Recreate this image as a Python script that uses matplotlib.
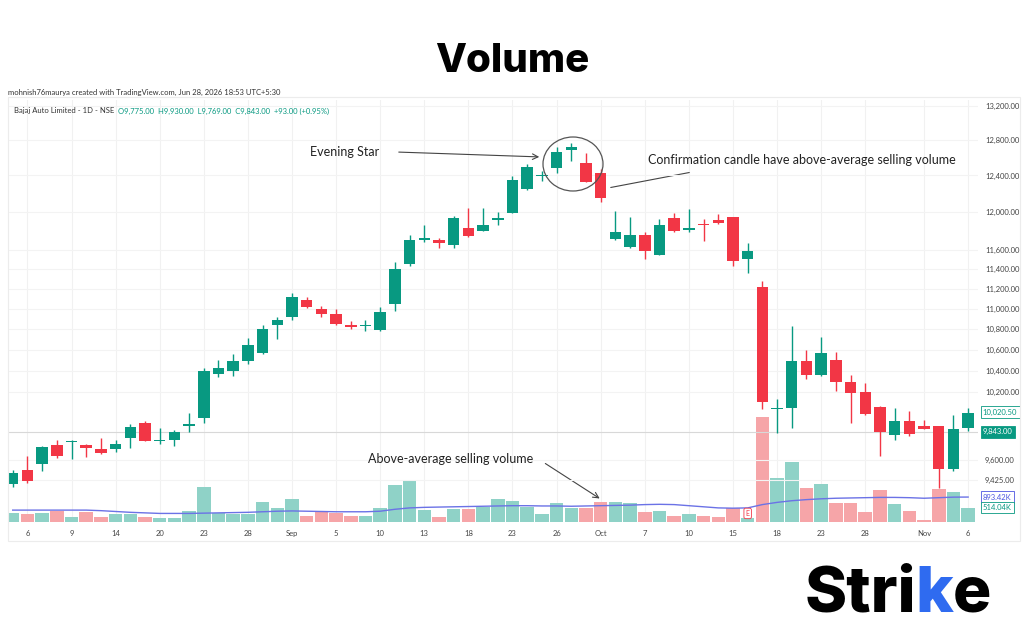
import matplotlib
matplotlib.use('Agg')
import matplotlib.pyplot as plt
import matplotlib.transforms as mtransforms
from matplotlib.patches import Ellipse
import numpy as np

# Bajaj Auto daily candles, 5 Aug - 6 Nov
opens = [9389, 9514, 9566, 9726, 9755, 9732, 9690, 9697, 9787, 9923,
         9765, 9773, 9893, 9966, 10372, 10397, 10490, 10572, 10834, 10913,
         11080, 10995, 10950, 10840, 10826, 10785, 11046, 11445, 11705, 11705,
         11650, 11830, 11800, 11915, 11993, 12245, 12390, 12485, 12690, 12545,
         12425, 11713, 11630, 11750, 11545, 11935, 11810, 11875, 11915, 11940,
         11500, 11212, 10046, 10055, 10493, 10360, 10500, 10300, 10200, 10070,
         9812, 9937, 9900, 9893, 9523, 9882]
closes = [9486, 9416, 9708, 9632, 9762, 9703, 9662, 9740, 9888, 9765,
          9772, 9843, 9914, 10400, 10425, 10493, 10646, 10803, 10890, 11113,
          11020, 10950, 10845, 10822, 10838, 10970, 11403, 11700, 11718, 11665,
          11935, 11740, 11855, 11935, 12348, 12493, 12405, 12660, 12725, 12330,
          12150, 11785, 11750, 11590, 11860, 11800, 11825, 11855, 11885, 11485,
          11590, 10110, 10055, 10493, 10360, 10573, 10300, 10195, 10000, 9840,
          9937, 9825, 9870, 9520, 9868, 10010]
highs = [9515, 9630, 9720, 9770, 9770, 9740, 9790, 9775, 9917, 9937,
         9880, 9861, 10010, 10425, 10500, 10555, 10712, 10840, 10917, 11157,
         11110, 11030, 10995, 10880, 10883, 11020, 11470, 11757, 11860, 11720,
         11955, 12045, 12040, 12000, 12390, 12530, 12455, 12725, 12765, 12655,
         12470, 12015, 11945, 11785, 11920, 11985, 12030, 11920, 11975, 11950,
         11665, 11275, 10140, 10830, 10600, 10725, 10575, 10360, 10290, 10075,
         10055, 10030, 9950, 9900, 9995, 10055]
lows = [9365, 9400, 9500, 9615, 9610, 9625, 9650, 9670, 9700, 9760,
        9740, 9720, 9846, 9925, 10345, 10355, 10462, 10555, 10700, 10885,
        11010, 10915, 10840, 10797, 10783, 10780, 10980, 11425, 11680, 11620,
        11620, 11735, 11795, 11860, 11985, 12240, 12335, 12425, 12560, 12325,
        12110, 11700, 11620, 11500, 11540, 11780, 11790, 11690, 11865, 11430,
        11360, 10050, 9835, 9880, 10320, 10355, 10210, 9925, 9995, 9635,
        9775, 9805, 9865, 9355, 9500, 9850]

# volume in millions and its moving average (blue line)
volumes = [0.33, 0.27, 0.30, 0.40, 0.16, 0.34, 0.16, 0.29, 0.28, 0.16,
           0.13, 0.13, 0.40, 1.27, 0.30, 0.29, 0.29, 0.72, 0.51, 0.82,
           0.22, 0.35, 0.30, 0.22, 0.19, 0.48, 1.33, 1.46, 0.42, 0.18,
           0.46, 0.46, 0.54, 0.81, 0.76, 0.52, 0.27, 0.69, 0.48, 0.48,
           0.72, 0.70, 0.66, 0.35, 0.37, 0.21, 0.28, 0.21, 0.18, 0.48,
           0.13, 3.78, 1.59, 2.17, 1.23, 1.38, 0.69, 0.69, 0.35, 1.15,
           0.64, 0.37, 0.06, 1.17, 1.06, 0.514]
vol_ma = [0.42, 0.42, 0.42, 0.42, 0.42, 0.42, 0.40, 0.37, 0.34, 0.32,
          0.30, 0.30, 0.30, 0.31, 0.32, 0.33, 0.34, 0.36, 0.38, 0.39,
          0.38, 0.37, 0.36, 0.36, 0.36, 0.38, 0.45, 0.50, 0.52, 0.53,
          0.54, 0.55, 0.56, 0.57, 0.58, 0.58, 0.57, 0.57, 0.56, 0.57,
          0.58, 0.59, 0.60, 0.62, 0.63, 0.62, 0.58, 0.54, 0.50, 0.49,
          0.50, 0.62, 0.70, 0.76, 0.80, 0.83, 0.85, 0.86, 0.87, 0.88,
          0.88, 0.87, 0.85, 0.87, 0.89, 0.893]

date_ticks = [1, 4, 7, 10, 13, 16, 19, 22, 25, 28, 31, 34, 37, 40, 43, 46, 49, 52, 55, 58, 62, 65]
date_labels = ['6', '9', '14', '20', '23', '28', 'Sep', '5', '10', '13', '18', '23', '26',
               'Oct', '7', '10', '15', '18', '23', '28', 'Nov', '6']
price_ticks = [13200, 12800, 12400, 12000, 11600, 11400, 11200, 11000, 10800,
               10600, 10400, 10200, 9600, 9425]

UP, DOWN = '#089981', '#f23645'
UP_V, DOWN_V = '#8fd2c7', '#f6a5a8'
W, H = 1024, 640


def fx(x):
    return x / W


def fy(y):
    return 1 - y / H


fig = plt.figure(figsize=(10.24, 6.4), dpi=100)
plt.rcParams['font.family'] = ['Lato', 'DejaVu Sans']

# chart frame
left, right, top, base = 8, 978, 100, 521.7
fig.add_artist(plt.Rectangle((fx(8), fy(541)), fx(1012), (541 - 97) / H,
                             transform=fig.transFigure, fill=False, ec='#ececec', lw=0.8))

ax_v = fig.add_axes([fx(left), fy(base), (right - left) / W, (base - top) / H])
ax_p = ax_v.twinx()

xs = np.arange(len(opens))
o = np.array(opens)
c = np.array(closes)
up = c >= o

# volume
ax_v.bar(xs, volumes, width=0.92, color=np.where(up, UP_V, DOWN_V), zorder=2)
ax_v.plot(xs, vol_ma, color='#6b72e6', lw=1, zorder=3)
ax_v.set_xlim(-0.32, 65.67)
ax_v.set_ylim(0, 15.28)
ax_v.set_yticks([])
ax_v.set_xticks(date_ticks)
ax_v.set_xticklabels(date_labels)
ax_v.tick_params(axis='x', length=0, pad=6, labelsize=5.5, labelcolor='#444')
ax_v.grid(axis='x', color='#f1f1f1', lw=0.8)
ax_v.set_axisbelow(True)

# candles
ccol = np.where(up, UP, DOWN)
ax_p.set_yscale('log')
ax_p.vlines(xs, lows, highs, color=ccol, lw=1, zorder=3)
ax_p.bar(xs, np.maximum(np.abs(c - o), 6), bottom=np.minimum(o, c), width=0.78,
         color=ccol, zorder=4)
ax_p.set_ylim(9079, 13272)
ax_p.yaxis.set_minor_locator(matplotlib.ticker.NullLocator())
ax_p.set_yticks(price_ticks)
ax_p.set_yticklabels([f'{v:,.2f}' for v in price_ticks])
ax_p.tick_params(axis='y', length=0, pad=5, labelsize=5.5, labelcolor='#444')
ax_p.grid(axis='y', color='#f3f3f3', lw=0.8, zorder=0)
ax_p.axhline(9843, color='#d8d8d8', lw=0.8, zorder=1)

for a in (ax_v, ax_p):
    for s in a.spines.values():
        s.set_visible(False)

# right-side value boxes
tp = mtransforms.blended_transform_factory(ax_p.transAxes, ax_p.transData)
tv = mtransforms.blended_transform_factory(ax_v.transAxes, ax_v.transData)
ax_p.text(1.005, 10020.5, '10,020.50', transform=tp, fontsize=5.5, color=UP, va='center',
          bbox=dict(boxstyle='square,pad=0.3', fc='white', ec=UP, lw=0.6))
ax_p.text(1.005, 9843, '9,843.00', transform=tp, fontsize=5.5, color='white', va='center',
          bbox=dict(boxstyle='square,pad=0.3', fc=UP, ec=UP, lw=0.6))
ax_v.text(1.005, 0.8934, '893.42K', transform=tv, fontsize=5.5, color='#4d55e0', va='center',
          bbox=dict(boxstyle='square,pad=0.3', fc='white', ec='#4d55e0', lw=0.6))
ax_v.text(1.005, 0.514, '514.04K', transform=tv, fontsize=5.5, color=UP, va='center',
          bbox=dict(boxstyle='square,pad=0.3', fc='white', ec=UP, lw=0.6))

# earnings marker
ax_v.text(50, 0.3, 'E', fontsize=5, color=DOWN, ha='center', va='center', zorder=5,
          bbox=dict(boxstyle='round,pad=0.25', fc='white', ec=DOWN, lw=0.6))

# header texts
fig.text(fx(8), fy(92), 'mohnish76maurya created with TradingView.com, Jun 28, 2026 18:53 UTC+5:30',
         fontsize=5.5, color='#333', va='center')
fig.text(fx(14), fy(111), 'Bajaj Auto Limited - 1D - NSE', fontsize=5.5, color='#333', va='center')
fig.text(fx(118), fy(111), 'O9,775.00  H9,930.00  L9,769.00  C9,843.00  +93.00 (+0.95%)',
         fontsize=5.5, color=UP, va='center')

fig.text(0.5, fy(62), 'Volume', ha='center', va='center', fontsize=29,
         fontweight='heavy', family='Inter', color='black')

# annotations
fig.text(fx(310), fy(152), 'Evening Star', fontsize=9, color='#222', va='center')
ax_v.annotate('', xy=(542, H - 157), xytext=(396, H - 152), xycoords='figure pixels',
              arrowprops=dict(arrowstyle='->', color='#444', lw=0.8))
fig.add_artist(Ellipse((fx(573), fy(164)), 60 / W, 54 / H, transform=fig.transFigure,
                       fill=False, ec='#555', lw=0.9))
fig.text(fx(648), fy(160), 'Confirmation candle have above-average selling volume',
         fontsize=9, color='#222', va='center')
ax_v.annotate('', xy=(692, H - 172), xytext=(608, H - 188), xycoords='figure pixels',
              arrowprops=dict(arrowstyle='-', color='#444', lw=0.8))
fig.text(fx(368), fy(459), 'Above-average selling volume', fontsize=9, color='#222', va='center')
ax_v.annotate('', xy=(602, H - 500), xytext=(543, H - 462), xycoords='figure pixels',
              arrowprops=dict(arrowstyle='->', color='#444', lw=0.8))

# logo
r = fig.canvas.get_renderer()
x0 = 805
for part, col in [('Stri', 'black'), ('k', '#2f6bf0'), ('e', 'black')]:
    t = fig.text(fx(x0), fy(612), part, fontsize=46, fontweight='heavy', family='Inter',
                 color=col, va='baseline', ha='left')
    x0 = t.get_window_extent(r).x1 - 1

fig.savefig('out.png', dpi=100)
